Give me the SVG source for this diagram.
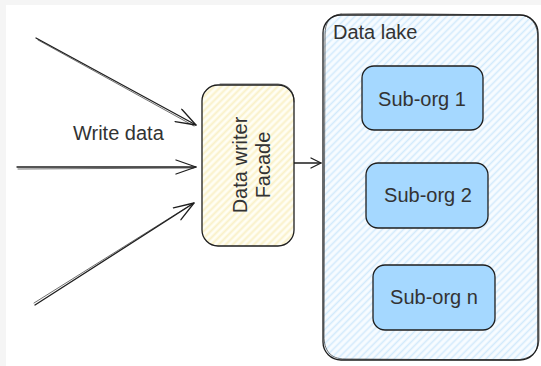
<svg xmlns="http://www.w3.org/2000/svg" width="541" height="366" viewBox="0 0 541 366">
  <style>
    .ink { stroke: #1e1e1e; stroke-width: 1.3; stroke-linecap: round; stroke-linejoin: round; }
    .line { fill: none; stroke: #1e1e1e; stroke-width: 1.3; stroke-linecap: round; stroke-linejoin: round; }
    .ink2 { fill: none; stroke: #1e1e1e; stroke-width: 0.8; stroke-linecap: round; opacity: 0.8; }
    .lbl { font-family: "Liberation Sans", Arial, sans-serif; font-size: 20px; fill: #333333; }
    .mid { text-anchor: middle; }
    .org { fill: #a5d8ff; }
  </style>
  <defs>
    <pattern id="hatchYellow" patternUnits="userSpaceOnUse" width="5" height="5" patternTransform="rotate(-45)">
      <rect width="5" height="5" fill="#fffef4"/>
      <line x1="0" y1="2.5" x2="5" y2="2.5" stroke="#faf1c8" stroke-width="2"/>
    </pattern>
    <pattern id="hatchBlue" patternUnits="userSpaceOnUse" width="5" height="5" patternTransform="rotate(-45)">
      <rect width="5" height="5" fill="#f8fcff"/>
      <line x1="0" y1="2.5" x2="5" y2="2.5" stroke="#d2eafc" stroke-width="1.6"/>
    </pattern>
    <marker id="open" viewBox="0 0 12 12" refX="11" refY="6" markerWidth="12" markerHeight="12" markerUnits="userSpaceOnUse" orient="auto">
      <path d="M1,1 L11,6 L1,11" fill="none" stroke="#1e1e1e" stroke-width="1.3" stroke-linecap="round" stroke-linejoin="round"/>
    </marker>
    <marker id="openBig" viewBox="0 0 22 16" refX="21" refY="8" markerWidth="22" markerHeight="16" markerUnits="userSpaceOnUse" orient="auto">
      <path d="M1,1 L21,8 L1,15" fill="none" stroke="#1e1e1e" stroke-width="1.3" stroke-linecap="round" stroke-linejoin="round"/>
    </marker>
  </defs>

  <!-- page -->
  <rect width="541" height="366" fill="#f5f5f5"/>
  <rect x="6" y="5" width="535" height="361" fill="#ffffff"/>

  <!-- connectors -->
  <g id="connectors">
    <path class="line" d="M36,38 L196,125" marker-end="url(#openBig)"/>
    <path class="ink2" d="M38,40 L194,126"/>
    <path class="line" d="M17,167 L196,167" marker-end="url(#openBig)"/>
    <path class="ink2" d="M18,169 L194,168"/>
    <path class="line" d="M35,305 L194,203" marker-end="url(#openBig)"/>
    <path class="ink2" d="M34,303 L192,204"/>
    <path class="line" d="M294,163 L321,163" marker-end="url(#open)"/>
    <text class="lbl" x="73" y="140">Write data</text>
  </g>

  <!-- data lake container -->
  <g id="data-lake">
    <rect x="323" y="15" width="215" height="345" rx="18" fill="url(#hatchBlue)" class="ink"/>
    <path class="ink2" d="M341,14 C400,13 480,15 520,15 C534,16 538,28 538,40 L539,340 C538,354 530,359 515,360 L345,359 C330,359 324,350 324,336 L325,35 C325,22 330,15 341,14"/>
    <text class="lbl" x="333" y="39">Data lake</text>
  </g>

  <!-- sub-orgs -->
  <g id="sub-org-1">
    <rect x="362" y="66" width="121" height="64" rx="12" class="ink org"/>
    <text class="lbl mid" x="422" y="106">Sub-org 1</text>
  </g>
  <g id="sub-org-2">
    <rect x="366" y="163" width="122" height="65" rx="12" class="ink org"/>
    <text class="lbl mid" x="428" y="202">Sub-org 2</text>
  </g>
  <g id="sub-org-n">
    <rect x="373" y="265" width="122" height="65" rx="12" class="ink org"/>
    <text class="lbl mid" x="434" y="304">Sub-org n</text>
  </g>

  <!-- facade -->
  <g id="facade">
    <rect x="202" y="85" width="92" height="161" rx="16" fill="url(#hatchYellow)" class="ink"/>
    <path class="ink2" d="M220,84 L278,84 C290,85 294,92 294,102"/>
    <text class="lbl mid" transform="translate(248,165) rotate(-90)"><tspan x="0" y="-1">Data writer</tspan><tspan x="0" y="22">Facade</tspan></text>
  </g>
</svg>
